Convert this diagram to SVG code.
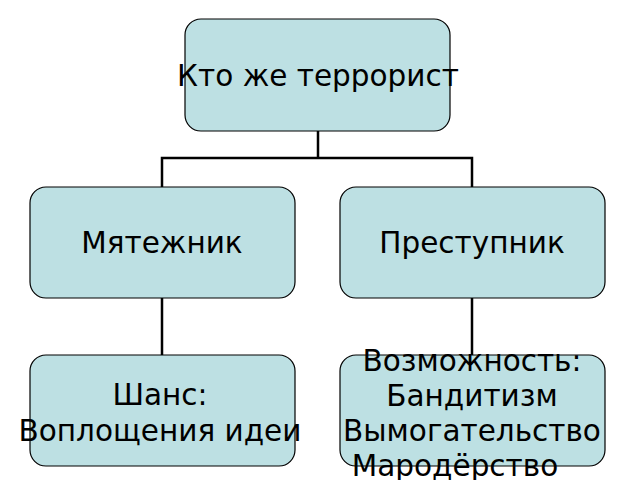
<svg xmlns="http://www.w3.org/2000/svg" width="640" height="480" viewBox="0 0 640 480">
<style>
.b{fill:#bde0e3;stroke:#000;stroke-width:1.2}
.t{font-family:"DejaVu Sans",sans-serif;font-size:29.5px;fill:#000;text-anchor:middle}
.c{fill:none;stroke:#000;stroke-width:2.5}
</style>
<rect width="640" height="480" fill="#fff"/>
<g id="connectors">
<path class="c" d="M318 131V158M162 187V158H472V187M162 298V355M472 298V355"/>
</g>
<g id="n1"><rect class="b" x="185" y="19" width="265" height="112" rx="16"/><text class="t" x="318" y="86">Кто же террорист</text></g>
<g id="n2"><rect class="b" x="30" y="187" width="265" height="111" rx="16"/><text class="t" x="162" y="253">Мятежник</text></g>
<g id="n3"><rect class="b" x="340" y="187" width="265" height="111" rx="16"/><text class="t" x="472" y="253">Преступник</text></g>
<g id="n4"><rect class="b" x="30" y="355" width="265" height="111" rx="16"/><text class="t" x="160" y="405">Шанс:</text><text class="t" x="160" y="441">Воплощения идеи</text></g>
<g id="n5"><rect class="b" x="340" y="355" width="265" height="111" rx="16"/><text class="t" x="472" y="371">Возможность:</text><text class="t" x="472" y="406">Бандитизм</text><text class="t" x="472" y="441">Вымогательство</text><text class="t" x="455" y="476">Мародёрство</text></g>
</svg>
